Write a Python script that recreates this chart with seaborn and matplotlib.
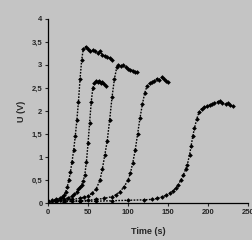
import numpy as np
import pandas as pd
import matplotlib
matplotlib.use("Agg")
import matplotlib.pyplot as plt
import seaborn as sns

# time (s) and voltage (V) for each run
t_a = [0, 5, 10, 15, 18, 20, 22, 24, 26, 28, 30, 32, 34, 36, 38, 40, 42, 44,
       47, 50, 53, 56, 59, 62, 65, 68, 71, 74, 77, 80]
u_a = [0.05, 0.06, 0.08, 0.10, 0.13, 0.17, 0.24, 0.35, 0.50, 0.68, 0.90, 1.15,
       1.45, 1.80, 2.20, 2.70, 3.10, 3.35, 3.40, 3.35, 3.30, 3.32, 3.30, 3.25,
       3.30, 3.22, 3.20, 3.18, 3.15, 3.10]

t_b = [0, 5, 10, 15, 20, 25, 30, 33, 36, 38, 40, 42, 44, 46, 48, 50, 52, 54,
       56, 58, 60, 62, 64, 66, 68, 70, 72]
u_b = [0.04, 0.05, 0.06, 0.07, 0.09, 0.11, 0.15, 0.19, 0.25, 0.30, 0.35, 0.40,
       0.47, 0.62, 0.90, 1.30, 1.75, 2.20, 2.50, 2.60, 2.65, 2.62, 2.66, 2.60,
       2.63, 2.58, 2.55]

t_c = [0, 10, 20, 30, 40, 45, 50, 55, 60, 65, 68, 71, 74, 77, 80, 83, 86, 88,
       91, 94, 97, 100, 103, 106, 109, 111]
u_c = [0.04, 0.05, 0.06, 0.08, 0.10, 0.13, 0.16, 0.21, 0.30, 0.50, 0.75, 1.05,
       1.35, 1.80, 2.30, 2.70, 2.95, 3.00, 2.98, 3.00, 2.95, 2.92, 2.90, 2.88,
       2.85, 2.85]

t_d = [0, 10, 20, 30, 40, 50, 60, 70, 80, 85, 90, 95, 100, 103, 106, 109, 112,
       115, 118, 121, 124, 127, 130, 133, 136, 139, 142, 145, 148, 150]
u_d = [0.03, 0.04, 0.04, 0.05, 0.05, 0.06, 0.08, 0.10, 0.14, 0.18, 0.25, 0.35,
       0.50, 0.65, 0.88, 1.15, 1.50, 1.85, 2.15, 2.40, 2.55, 2.60, 2.62, 2.66,
       2.70, 2.68, 2.73, 2.70, 2.65, 2.62]

t_e = [0, 20, 40, 60, 80, 100, 120, 130, 136, 142, 148, 152, 156, 160, 163,
       166, 169, 172, 174, 177, 179, 181, 183, 186, 189, 192, 195, 199, 202,
       205, 208, 212, 215, 218, 222, 225, 228, 231]
u_e = [0.03, 0.03, 0.04, 0.04, 0.05, 0.06, 0.07, 0.08, 0.10, 0.13, 0.17, 0.21,
       0.26, 0.33, 0.40, 0.50, 0.60, 0.73, 0.82, 1.05, 1.25, 1.45, 1.62, 1.83,
       1.98, 2.05, 2.08, 2.10, 2.13, 2.15, 2.18, 2.20, 2.22, 2.18, 2.15, 2.17,
       2.12, 2.10]

x_ticks = [0, 50, 100, 150, 200, 250]
y_ticks = [0, 0.5, 1, 1.5, 2, 2.5, 3, 3.5, 4]
y_ticklabels = ["0", "0,5", "1", "1,5", "2", "2,5", "3", "3,5", "4"]

runs = [(t_a, u_a), (t_b, u_b), (t_c, u_c), (t_d, u_d), (t_e, u_e)]

sns.set_style("ticks")
plt.rcParams["font.family"] = ["Liberation Sans", "DejaVu Sans"]

bg = "#c4c4c4"
fig = plt.figure(figsize=(2.53, 2.40), dpi=100, facecolor=bg)
ax = fig.add_axes([0.19, 0.154, 0.79, 0.767])
ax.set_facecolor(bg)

for t, u in runs:
    df = pd.DataFrame({"t": t, "u": u})
    sns.lineplot(data=df, x="t", y="u", ax=ax, color="black", lw=1.0,
                 linestyle=(0, (1.2, 1.0)), marker="D", markersize=2.4,
                 markeredgewidth=0, sort=False)

ax.set_xlim(0, 250)
ax.set_ylim(0, 4)
ax.set_xticks(x_ticks)
ax.set_xticklabels([str(v) for v in x_ticks], fontsize=5.5, fontweight="bold")
ax.set_yticks(y_ticks)
ax.set_yticklabels(y_ticklabels, fontsize=5.5, fontweight="bold")
ax.tick_params(length=2, width=0.8, pad=2)
ax.set_xlabel("Time (s)", fontsize=6.5, fontweight="bold", labelpad=8)
ax.set_ylabel("U (V)", fontsize=6.5, fontweight="bold", labelpad=4)
for side in ["top", "right"]:
    ax.spines[side].set_visible(False)
for side in ["left", "bottom"]:
    ax.spines[side].set_linewidth(0.9)
    ax.spines[side].set_color("black")

fig.savefig("out.png", dpi=100, facecolor=bg)
